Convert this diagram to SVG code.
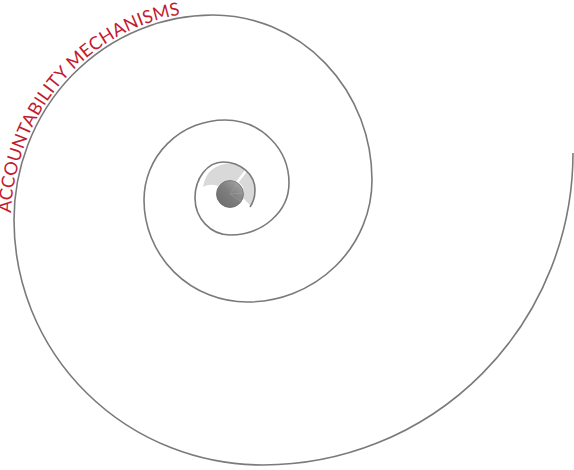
<svg xmlns="http://www.w3.org/2000/svg" xmlns:xlink="http://www.w3.org/1999/xlink" width="574" height="470" viewBox="0 0 574 470">
  <style>
    .spiral { fill: none; stroke: #7a7a7a; stroke-width: 1.6; }
    .label { font-family: "Lato", "Open Sans", "Liberation Sans", sans-serif; font-size: 18px; fill: #c41a2e; }
  </style>
  <defs>
    <path id="textArc" d="M 11 222 A 202 209 0 0 1 213 12"/>
    <linearGradient id="disk" x1="0" y1="1" x2="1" y2="0">
      <stop offset="0" stop-color="#6a6a6a"/>
      <stop offset="0.5" stop-color="#7e7e7e"/>
      <stop offset="0.75" stop-color="#959595"/>
      <stop offset="1" stop-color="#b0b0b0"/>
    </linearGradient>
  </defs>
  <rect width="574" height="470" fill="#ffffff"/>

  <g id="core">
    <path d="M 203 187 Q 206 168 224 164 Q 244 161 253 180 Q 258 195 251 206 Q 246 201 243 198 Q 246 186 238 182 Q 228 177 218 186 Q 210 183 203 187 Z" fill="#d9d9d9"/>
    <path d="M 248 168 L 236 184" stroke="#ffffff" stroke-width="2.5" fill="none"/>
    <circle cx="230" cy="194" r="13.5" fill="url(#disk)" stroke="#6a6a6a" stroke-width="0.8"/>
    <path d="M 230 194 L 243.5 193 M 230 194 L 238 183 M 230 194 L 242 202" stroke="#a5a5a5" stroke-width="0.6" fill="none" opacity="0.7"/>
  </g>

  <g id="connectors">
    <path class="spiral" d="M 573 153
      A 310 312 0 0 1 263 465
      A 249 245 0 0 1 14 220
      A 199 205 0 0 1 213 15
      A 159 165 0 0 1 372 180
      A 125 122 0 0 1 247 302
      A 103 102 0 0 1 144 200
      A 81 80 0 0 1 225 120
      A 64 63 0 0 1 289 183
      A 59 52 0 0 1 230 235
      A 35 37 0 0 1 195 198
      A 28 36 0 0 1 223 162
      A 32 28 0 0 1 255 190
      Q 255 200 250 207"/>
  </g>

  <g id="label">
    <text class="label"><textPath xlink:href="#textArc" href="#textArc" startOffset="9" textLength="282" lengthAdjust="spacing">ACCOUNTABILITY MECHANISMS</textPath></text>
  </g>
</svg>
